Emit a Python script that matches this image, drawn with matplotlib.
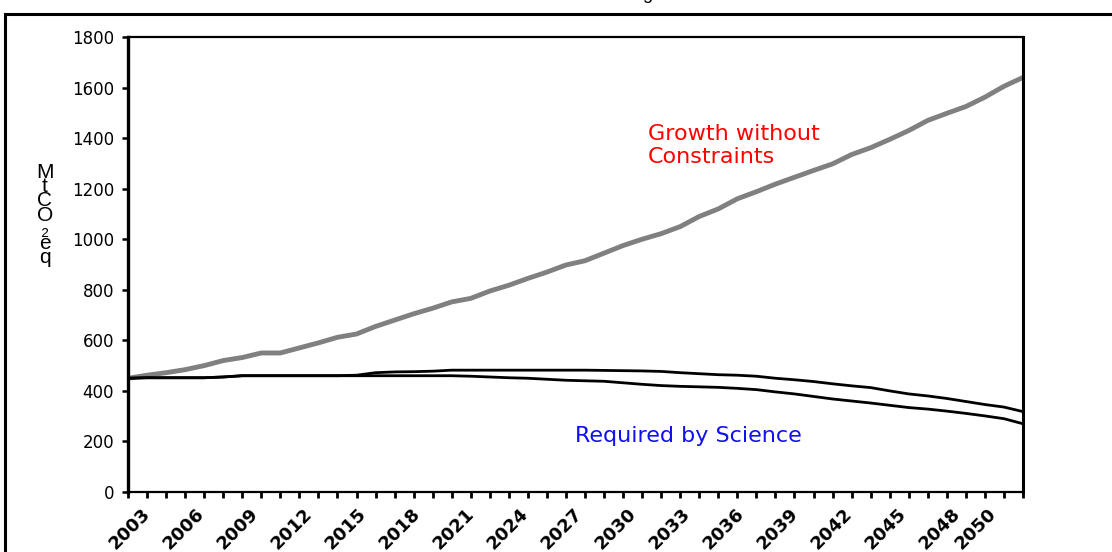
import matplotlib
matplotlib.use('Agg')
import matplotlib.pyplot as plt
from matplotlib.patches import Rectangle

years = list(range(2003, 2051))
growth = [450, 462, 472, 484, 500, 520, 532, 550, 550, 570,
          590, 612, 625, 655, 680, 705, 727, 752, 766, 795,
          818, 845, 870, 898, 915, 945, 975, 1000, 1022, 1050,
          1090, 1120, 1160, 1188, 1218, 1245, 1272, 1298, 1335, 1362,
          1395, 1430, 1470, 1498, 1525, 1562, 1605, 1640]
science_upper = [450, 452, 452, 452, 452, 455, 460, 460, 460, 460,
                 460, 460, 462, 472, 475, 476, 478, 482, 482, 482,
                 482, 482, 482, 482, 482, 481, 480, 479, 477, 472,
                 468, 464, 462, 458, 450, 444, 437, 428, 420, 413,
                 400, 388, 380, 370, 358, 346, 336, 318]
science_lower = [450, 452, 452, 452, 452, 455, 460, 460, 460, 460,
                 460, 460, 460, 460, 460, 460, 460, 460, 458, 455,
                 452, 450, 446, 442, 440, 438, 432, 426, 421, 418,
                 416, 414, 410, 405, 396, 388, 378, 368, 360, 352,
                 343, 334, 328, 320, 311, 301, 290, 270]
label_years = [2003, 2006, 2009, 2012, 2015, 2018, 2021, 2024, 2027,
               2030, 2033, 2036, 2039, 2042, 2045, 2048, 2050]
y_ticks = list(range(0, 1801, 200))

W, H = 1112, 552
fig = plt.figure(figsize=(W / 100, H / 100), dpi=100)
fig.patch.set_facecolor('white')

# outer frame
fig.patches.append(Rectangle((5 / W, -0.2), 1.3, 1 - 14 / H + 0.2,
                             transform=fig.transFigure, fill=False,
                             edgecolor='black', lw=2.2, clip_on=False))
# fragment of title above the canvas
fig.text(647 / W, 1 + 1 / H, 'g', ha='center', va='baseline',
         fontsize=13, family='Liberation Sans', color='black')

ax = fig.add_axes([128 / W, 1 - 492 / H, (1023 - 128) / W, (492 - 37) / H])
x = list(range(len(years)))
ax.plot(x, growth, color='#808080', lw=3.5, solid_joinstyle='round', zorder=3)
ax.plot(x, science_upper, color='black', lw=2.0, zorder=4)
ax.plot(x, science_lower, color='black', lw=2.0, zorder=4)
ax.set_xlim(0, len(years) - 1)
ax.set_ylim(0, 1800)

# tick marks at each year, labels drift as in the reference
ax.set_xticks(x, minor=True)
label_pos = [(2 + 18 * (yr - years[0])) / 19.04 for yr in label_years]
ax.set_xticks(label_pos)
ax.set_xticklabels([str(y) for y in label_years], rotation=45, ha='center',
                   va='top', fontsize=13, fontweight='bold',
                   family='DejaVu Sans')
ax.tick_params(axis='x', which='major', length=0, pad=9)
ax.tick_params(axis='x', which='minor', length=4, width=2, direction='out',
               color='black')
ax.set_yticks(y_ticks)
ax.set_yticklabels([str(v) for v in y_ticks], fontsize=12,
                   family='DejaVu Sans')
ax.tick_params(axis='y', length=4, width=1.8, direction='out', pad=6)

for side, lw in [('left', 2.4), ('right', 2.2), ('top', 1.6), ('bottom', 1.6)]:
    ax.spines[side].set_linewidth(lw)
    ax.spines[side].set_color('black')
    ax.spines[side].set_zorder(6)

ax.text(27.3, 1370, 'Growth without\nConstraints', color='#FF0000',
        fontsize=16, family='DejaVu Sans', ha='left', va='center',
        linespacing=1.22)
ax.text(23.5, 221, 'Required by Science', color='#1010F0', fontsize=16,
        family='DejaVu Sans', ha='left', va='center')

fig.text(45 / W, 1 - 215 / H, 'M\nt\nC\nO\n\u2082\ne\nq', ha='center',
         va='center', fontsize=15, linespacing=0.68,
         family=['Liberation Sans', 'DejaVu Sans'])

fig.savefig('out.png', dpi=100, facecolor='white')
